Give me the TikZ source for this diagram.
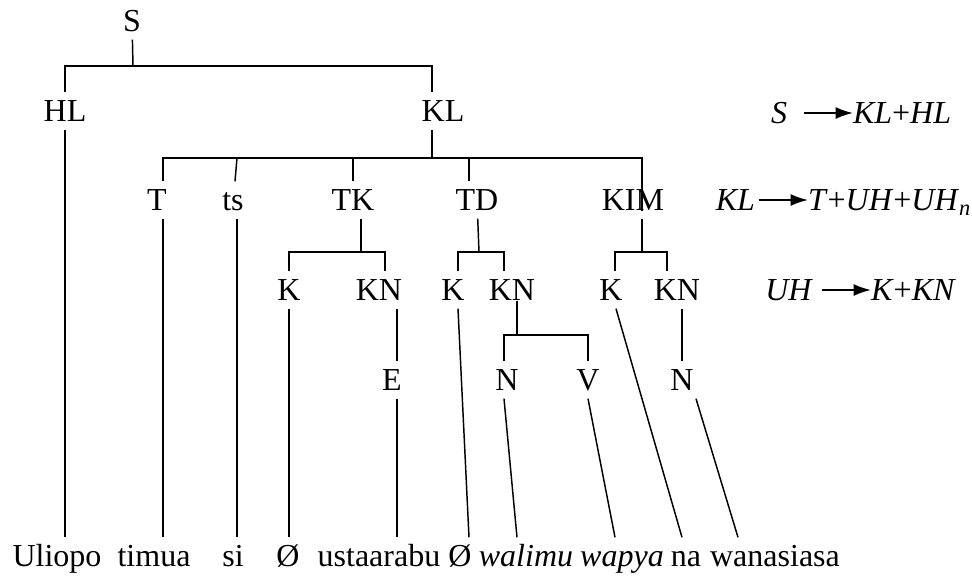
\documentclass[tikz,border=0pt]{standalone}
\usepackage{fontspec}
\setmainfont{Liberation Serif}
\usetikzlibrary{arrows.meta,calc}

\tikzset{
	lbl/.style={inner sep=0pt, outer sep=6pt, text height=16pt, text depth=0pt},
	eqn/.style={inner sep=0pt, outer sep=0pt, text height=16pt, text depth=0pt},
	rule/.style={-{Latex[length=13pt,width=9pt]}, line width=1.5pt}
}

\begin{document}
\begin{tikzpicture}[x=0.75pt, y=-0.75pt, line width=1.1pt, font=\fontsize{24}{28}\selectfont]
	\useasboundingbox (0,0) rectangle (972,578);
	
	% tree labels
	\node[lbl] (S) at (132,21) {S};
	\node[lbl] (HL) at (65,111) {HL};
	\node[lbl] (KL) at (443,111) {KL};
	\node[lbl] (T) at (157,200) {T};
	\node[lbl] (ts) at (233,200) {ts};
	\node[lbl] (TK) at (353,200) {TK};
	\node[lbl] (TD) at (477,200) {TD};
	\node[lbl] (KIM) at (633,200) {KIM};
	\node[lbl] (K1) at (289,290) {K};
	\node[lbl] (KN1) at (379,290) {KN};
	\node[lbl] (K2) at (453,290) {K};
	\node[lbl] (KN2) at (512,290) {KN};
	\node[lbl] (K3) at (611,290) {K};
	\node[lbl] (KN3) at (677,290) {KN};
	\node[lbl] (E) at (392,380) {E};
	\node[lbl] (N1) at (507,380) {N};
	\node[lbl] (V) at (588,380) {V};
	\node[lbl] (N2) at (682,380) {N};
	
	% sentence
	\node[lbl] (w1) at (57,556) {Uliopo};
	\node[lbl] (w2) at (154,556) {timua};
	\node[lbl] (w3) at (233,556) {si};
	\node[lbl] (w4) at (288,556) {Ø};
	\node[lbl] (w5) at (379,556) {ustaarabu};
	\node[lbl] (w6) at (460,556) {Ø};
	\node[lbl] (w7) at (526,556) {\textit{walimu}};
	\node[lbl] (w8) at (622,556) {\textit{wapya}};
	\node[lbl] (w9) at (686,556) {na};
	\node[lbl] (w10) at (775,556) {wanasiasa};
	
	% forks
	\coordinate (fS) at (133,66);
	\coordinate (fKL) at (432,158);
	\coordinate (fTK) at (361,252);
	\coordinate (fTD) at (479,252);
	\coordinate (fKIM) at (642,252);
	\coordinate (fKN) at (517,335);
	
	% S
	\draw (S) -- (fS);
	\draw (HL) |- (fS) -| ($(KL.north)+(-11,0)$);
	
	% KL
	\draw ($(KL.south)+(-11,0)$) -- (fKL);
	\draw ($(T.north)+(6,0)$) |- (fKL) -| ($(KIM.base)+(9,0)$);
	\draw ($(ts.north)+(2,0)$) -- ($(ts.north |- fKL)+(4,0)$);
	\draw (TK) -- (TK |- fKL);
	\draw ($(TD.north)+(-8,0)$) -- ($(TD.north |- fKL)+(-8,0)$);
	
	% TK, TD, KIM
	\draw ($(TK.south)+(8,0)$) -- (fTK);
	\draw (K1) |- (fTK) -| ($(KN1.north)+(6,0)$);
	\draw (TD) -- (fTD);
	\draw ($(K2.north)+(5,0)$) |- (fTD) -| ($(KN2.north)+(-8,0)$);
	\draw ($(KIM.south)+(9,0)$) -- (fKIM);
	\draw ($(K3.north)+(4,0)$) |- (fKIM) -| ($(KN3.north)+(-10,0)$);
	
	% KN
	\draw ($(KN2.base)+(5,0)$) -- (fKN);
	\draw ($(N1.north)+(-3,0)$) |- (fKN) -| (V);
	\draw ($(KN1.south)+(18,0)$) -- ($(KN1.south |- E.north)+(18,0)$);
	\draw ($(KN3.south)+(5,0)$) -- (N2);
	
	% down to the words
	\draw (HL) -- (HL |- w1.north);
	\draw ($(T.south)+(6,0)$) -- ($(T.south |- w2.north)+(6,0)$);
	\draw ($(ts.south)+(4,0)$) -- ($(ts.south |- w3.north)+(4,0)$);
	\draw (K1) -- (K1 |- w4.north);
	\draw ($(E.south)+(5,0)$) -- ($(E.south |- w5.north)+(5,0)$);
	\draw ($(K2.south)+(5,0)$) -- ($(w6.north)+(9,0)$);
	\draw ($(N1.south)+(-3,0)$) -- ($(w7.north)+(-9,0)$);
	\draw (V.south) -- ($(w8.north)+(-7,0)$);
	\draw ($(K3.south)+(5,0)$) -- ($(w9.north)+(-4,0)$);
	\draw ($(N2.south)+(14,0)$) -- ($(w10.north)+(-37,0)$);
	
	% rules
	\node[eqn, anchor=east] (r1l) at (787,113) {\textit{S}};
	\node[eqn, anchor=west] (r1r) at (853,113) {\textit{KL}+\textit{HL}};
	\draw[rule, shorten <=13pt] (r1l) -- (r1r);
	
	\node[eqn, anchor=east] (r2l) at (755,200) {\textit{KL}};
	\node[eqn, anchor=west] (r2r) at (808,200) {\textit{T}+\textit{UH}+\textit{UH}\textsubscript{\textit{n}}};
	\draw[rule, shorten <=3pt] (r2l) -- (r2r);
	
	\node[eqn, anchor=east] (r3l) at (813,290) {\textit{UH}};
	\node[eqn, anchor=west] (r3r) at (871,290) {\textit{K}+\textit{KN}};
	\draw[rule, shorten <=7pt] (r3l) -- (r3r);
\end{tikzpicture}
\end{document}
